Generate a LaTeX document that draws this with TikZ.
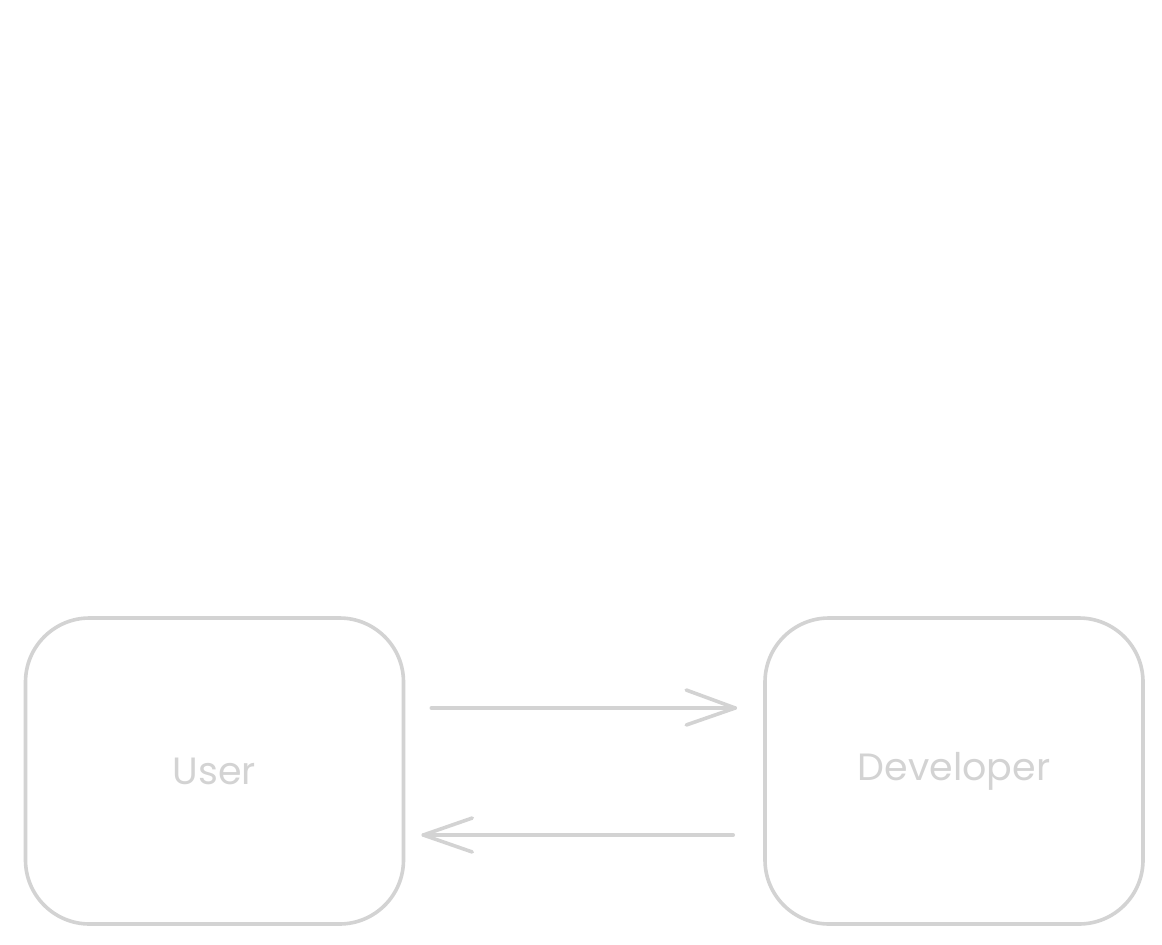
\documentclass[tikz,border=0pt]{standalone}
\usepackage{fontspec}
\setmainfont{Poppins}
\definecolor{stroke}{RGB}{211,211,211}
\begin{document}
\begin{tikzpicture}[x=1pt,y=-1pt,
  actor/.style={draw=stroke, line width=3.6pt, rounded corners=64pt,
    minimum width=378pt, minimum height=306pt, inner sep=0pt,
    text=stroke, font=\fontsize{38}{44}\selectfont},
  link/.style={draw=stroke, line width=3.6pt, line cap=round, line join=round}]
\useasboundingbox (0,0) rectangle (1162,945);
\node[actor] (user) at (214.5,771) {User};
\node[actor] (dev) at (954,771) {Developer};
% top arrow: User -> Developer
\coordinate (a1s) at ([xshift=26pt,yshift=63pt]user.east);
\coordinate (a1e) at ([xshift=-28pt,yshift=63pt]dev.west);
\draw[link] (a1s) -- (a1e);
\draw[link] ([xshift=-49pt,yshift=18pt]a1e) -- (a1e) -- ([xshift=-49pt,yshift=-17pt]a1e);
% bottom arrow: Developer -> User
\coordinate (a2s) at ([xshift=-30pt,yshift=-64pt]dev.west);
\coordinate (a2e) at ([xshift=18pt,yshift=-64pt]user.east);
\draw[link] (a2s) -- (a2e);
\draw[link] ([xshift=49pt,yshift=17pt]a2e) -- (a2e) -- ([xshift=49pt,yshift=-17pt]a2e);
\end{tikzpicture}
\end{document}
